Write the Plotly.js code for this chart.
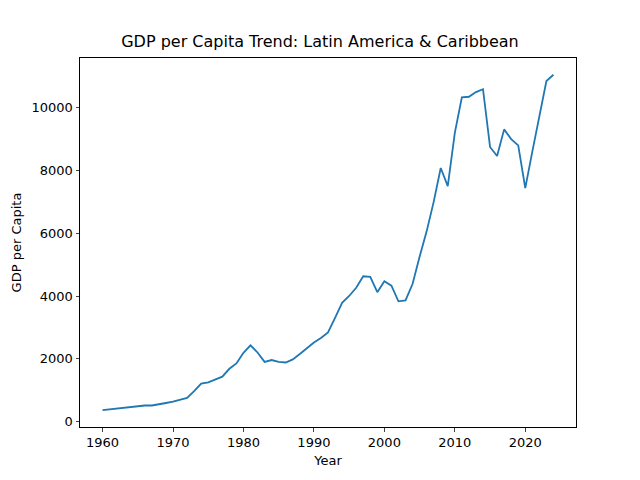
<!DOCTYPE html>
<html><head><script src="https://cdn.plot.ly/plotly-3.0.1.min.js"></script></head>
<body style="margin:0">
<div id="c" style="width:640px;height:480px"></div>
<script>
const years = [];
for (let y = 1960; y <= 2024; y++) years.push(y);
const gdp = [360,385,400,415,450,475,510,510,540,590,630,680,750,970,1210,1250,1330,1430,1680,1850,
2190,2430,2200,1900,1960,1900,1880,1980,2150,2330,2520,2660,2840,3300,3780,4000,4260,4630,4610,4120,
4470,4330,3830,3860,4380,5250,6060,7000,8080,7500,9200,10330,10350,10500,10590,8750,8460,9310,9000,8800,
7440,8600,9700,10850,11050];
const yTicks = [0,2000,4000,6000,8000,10000];
const yTickText = ['0','2000','4000','6000','8000','10000'];
Plotly.newPlot('c', [{x: years, y: gdp, type: 'scatter', mode: 'lines', line: {color: '#1f77b4', width: 1.8}}], {
  width: 640, height: 480,
  margin: {l: 80, r: 64, t: 58, b: 53},
  paper_bgcolor: 'white', plot_bgcolor: 'white',
  font: {family: 'DejaVu Sans', size: 13, color: 'black'},
  title: {text: 'GDP per Capita Trend: Latin America & Caribbean', font: {size: 16}, x: 0.5, y: 0.925},
  xaxis: {title: {text: 'Year', font: {size: 13}, standoff: 6}, range: [1956.8, 2027.2], tickvals: [1960,1970,1980,1990,2000,2010,2020],
    showgrid: false, zeroline: false, showline: true, mirror: true, linecolor: 'black', ticks: 'outside', ticklen: 3.5},
  yaxis: {title: {text: 'GDP per Capita', font: {size: 13}, standoff: 6}, range: [-175, 11585], tickvals: yTicks, ticktext: yTickText,
    showgrid: false, zeroline: false, showline: true, mirror: true, linecolor: 'black', ticks: 'outside', ticklen: 3.5}
}, {displayModeBar: false});
</script></body></html>
